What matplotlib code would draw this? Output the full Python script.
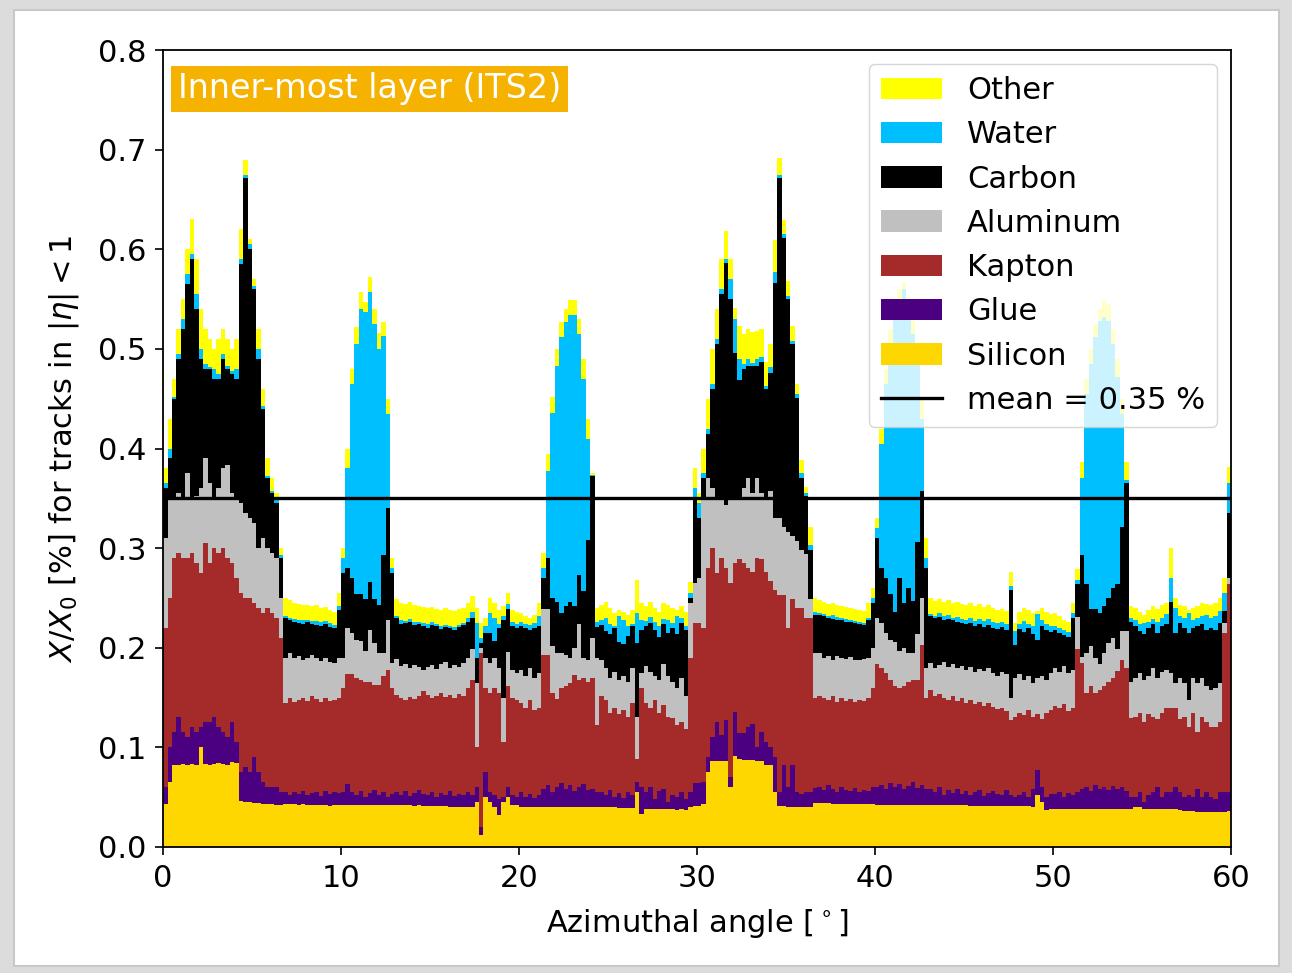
"""
Material budget of the ITS2 inner-most layer versus azimuthal angle.
"""
import numpy as np
import matplotlib
matplotlib.use("Agg")
import matplotlib.pyplot as plt
from matplotlib.patches import Rectangle

plt.rcParams['font.family'] = 'DejaVu Sans'
plt.rcParams['font.size'] = 22

# bins of 0.25 deg from 0 to 60 deg, cumulative top of each material layer
bin_width = 0.25
n_bins = 240

silicon_top = (
    [0.043, 0.065, 0.082, 0.082, 0.083, 0.082, 0.083, 0.082, 0.10, 0.083, 0.082, 0.083, 0.084, 0.083,
     0.082, 0.085, 0.084, 0.046, 0.045, 0.045, 0.044, 0.044, 0.043, 0.043, 0.043, 0.042, 0.042]
    + [0.043, 0.043, 0.043, 0.042, 0.043, 0.042, 0.042, 0.042, 0.042, 0.042, 0.041, 0.042, 0.042]
    + [0.042, 0.042, 0.042, 0.042, 0.042, 0.042, 0.042, 0.042, 0.042, 0.042, 0.042, 0.042]
    + [0.042, 0.042, 0.042, 0.042, 0.041, 0.042, 0.041, 0.041, 0.041, 0.041, 0.041, 0.041, 0.040,
       0.040, 0.040, 0.040, 0.040, 0.040]
    + [0.045, 0.012, 0.05, 0.045, 0.04, 0.032, 0.045, 0.05, 0.042, 0.042]
    + [0.04, 0.04, 0.04, 0.04, 0.04, 0.04, 0.04, 0.04, 0.04, 0.04, 0.04, 0.04, 0.04, 0.04, 0.04,
       0.04, 0.04, 0.04]
    + [0.04, 0.04, 0.04, 0.04, 0.039, 0.039, 0.039, 0.039, 0.055, 0.033, 0.038, 0.038, 0.038, 0.038,
       0.038, 0.038, 0.038, 0.037, 0.038, 0.037, 0.04, 0.041]
    + [0.041, 0.043, 0.075, 0.086, 0.086, 0.086, 0.086, 0.06, 0.091, 0.088, 0.087, 0.087, 0.087,
       0.086, 0.086, 0.082, 0.082, 0.055, 0.041, 0.041, 0.04, 0.04, 0.04, 0.04, 0.04, 0.04, 0.044]
    + [0.044, 0.044, 0.044, 0.043, 0.043, 0.043, 0.043, 0.043, 0.043, 0.043, 0.043, 0.043, 0.043]
    + [0.042, 0.042, 0.042, 0.042, 0.042, 0.042, 0.042, 0.042, 0.042, 0.042, 0.042, 0.042]
    + [0.042, 0.042, 0.042, 0.042, 0.042, 0.042, 0.042, 0.042, 0.042, 0.041, 0.041, 0.041, 0.041,
       0.041, 0.041, 0.041, 0.041, 0.041, 0.041, 0.041, 0.041, 0.041, 0.041, 0.040, 0.052, 0.045,
       0.037, 0.038]
    + [0.038, 0.038, 0.038, 0.038, 0.038, 0.038, 0.038, 0.038, 0.038, 0.038, 0.038, 0.038, 0.038,
       0.038, 0.038, 0.038, 0.038, 0.038]
    + [0.04, 0.04, 0.038, 0.038, 0.038, 0.038, 0.038, 0.038, 0.038, 0.038, 0.037, 0.036, 0.036,
       0.036, 0.035, 0.035, 0.035, 0.035, 0.035, 0.035, 0.035, 0.036]
)

glue_top = (
    [0.06, 0.10, 0.115, 0.13, 0.115, 0.11, 0.12, 0.115, 0.12, 0.125, 0.125, 0.13, 0.12, 0.115,
     0.11, 0.125, 0.105, 0.075, 0.08, 0.075, 0.09, 0.075, 0.065, 0.06, 0.06, 0.06, 0.055]
    + [0.055, 0.052, 0.055, 0.053, 0.056, 0.052, 0.054, 0.055, 0.051, 0.056, 0.053, 0.055, 0.054]
    + [0.055, 0.063, 0.055, 0.052, 0.056, 0.05, 0.054, 0.057, 0.052, 0.055, 0.05, 0.053]
    + [0.055, 0.052, 0.056, 0.051, 0.054, 0.057, 0.053, 0.052, 0.055, 0.050, 0.054, 0.052, 0.056,
       0.051, 0.053, 0.052, 0.055, 0.052]
    + [0.06, 0.02, 0.075, 0.055, 0.052, 0.048, 0.05, 0.06, 0.052, 0.05]
    + [0.055, 0.05, 0.053, 0.049, 0.052, 0.058, 0.062, 0.055, 0.06, 0.064, 0.058, 0.062, 0.056,
       0.06, 0.063, 0.057, 0.058, 0.055]
    + [0.055, 0.052, 0.057, 0.050, 0.054, 0.049, 0.055, 0.052, 0.065, 0.06, 0.055, 0.06, 0.048,
       0.056, 0.058, 0.045, 0.052, 0.05, 0.055, 0.048, 0.055, 0.064]
    + [0.064, 0.065, 0.09, 0.11, 0.125, 0.112, 0.127, 0.07, 0.136, 0.114, 0.114, 0.12, 0.123,
       0.10, 0.115, 0.105, 0.10, 0.09, 0.055, 0.082, 0.06, 0.082, 0.055, 0.053, 0.055, 0.055, 0.059]
    + [0.06, 0.057, 0.062, 0.058, 0.055, 0.060, 0.057, 0.056, 0.059, 0.055, 0.057, 0.056, 0.06]
    + [0.06, 0.062, 0.058, 0.064, 0.06, 0.063, 0.058, 0.061, 0.065, 0.059, 0.062, 0.058]
    + [0.058, 0.055, 0.06, 0.052, 0.057, 0.054, 0.058, 0.053, 0.056, 0.052, 0.055, 0.057, 0.051,
       0.054, 0.056, 0.053, 0.052, 0.057, 0.052, 0.05, 0.052, 0.055, 0.05, 0.058, 0.077, 0.06,
       0.05, 0.053]
    + [0.053, 0.055, 0.05, 0.054, 0.052, 0.055, 0.058, 0.06, 0.056, 0.062, 0.058, 0.06, 0.057,
       0.061, 0.058, 0.06, 0.056, 0.05]
    + [0.05, 0.055, 0.045, 0.052, 0.055, 0.06, 0.05, 0.055, 0.055, 0.06, 0.055, 0.05, 0.052, 0.05,
       0.058, 0.05, 0.055, 0.05, 0.048, 0.055, 0.055, 0.055]
)

kapton_top = (
    [0.22, 0.25, 0.29, 0.295, 0.29, 0.29, 0.295, 0.285, 0.275, 0.305, 0.285, 0.30, 0.295, 0.30,
     0.29, 0.285, 0.27, 0.255, 0.25, 0.25, 0.245, 0.24, 0.235, 0.24, 0.235, 0.23, 0.21]
    + [0.145, 0.15, 0.146, 0.148, 0.15, 0.147, 0.152, 0.149, 0.146, 0.15, 0.147, 0.148, 0.15]
    + [0.16, 0.174, 0.174, 0.17, 0.168, 0.166, 0.166, 0.163, 0.163, 0.172, 0.178, 0.16]
    + [0.153, 0.150, 0.148, 0.151, 0.149, 0.152, 0.157, 0.153, 0.150, 0.152, 0.155, 0.151, 0.153,
       0.150, 0.154, 0.152, 0.160, 0.168]
    + [0.10, 0.195, 0.16, 0.155, 0.16, 0.155, 0.105, 0.162, 0.15, 0.148]
    + [0.145, 0.14, 0.148, 0.138, 0.14, 0.193, 0.193, 0.155, 0.149, 0.16, 0.162, 0.165, 0.173,
       0.168, 0.17, 0.166, 0.17, 0.122]
    + [0.152, 0.148, 0.135, 0.140, 0.133, 0.138, 0.130, 0.145, 0.088, 0.16, 0.145, 0.14, 0.148,
       0.135, 0.143, 0.130, 0.129, 0.122, 0.125, 0.118, 0.19, 0.225]
    + [0.225, 0.22, 0.28, 0.30, 0.275, 0.29, 0.28, 0.265, 0.285, 0.289, 0.285, 0.28, 0.276, 0.29,
       0.289, 0.276, 0.267, 0.258, 0.253, 0.253, 0.22, 0.249, 0.24, 0.24, 0.23, 0.23, 0.15]
    + [0.152, 0.150, 0.148, 0.152, 0.146, 0.150, 0.147, 0.149, 0.146, 0.148, 0.147, 0.15, 0.16]
    + [0.184, 0.18, 0.175, 0.168, 0.162, 0.16, 0.162, 0.166, 0.168, 0.168, 0.203, 0.15]
    + [0.158, 0.152, 0.154, 0.150, 0.148, 0.152, 0.147, 0.150, 0.145, 0.148, 0.144, 0.146, 0.142,
       0.145, 0.141, 0.139, 0.14, 0.137, 0.127, 0.13, 0.135, 0.132, 0.138, 0.13, 0.134, 0.128,
       0.135, 0.138]
    + [0.142, 0.14, 0.144, 0.137, 0.14, 0.199, 0.185, 0.155, 0.162, 0.155, 0.158, 0.162, 0.166,
       0.17, 0.177, 0.188, 0.18, 0.129]
    + [0.13, 0.135, 0.125, 0.133, 0.13, 0.128, 0.135, 0.14, 0.14, 0.14, 0.128, 0.13, 0.12, 0.135,
       0.115, 0.13, 0.125, 0.12, 0.12, 0.125, 0.215, 0.264]
)

aluminum_top = (
    [0.31, 0.35, 0.35, 0.355, 0.35, 0.375, 0.35, 0.352, 0.36, 0.39, 0.365, 0.35, 0.36, 0.38,
     0.383, 0.355, 0.35, 0.345, 0.335, 0.33, 0.325, 0.30, 0.31, 0.30, 0.295, 0.29, 0.25]
    + [0.19, 0.195, 0.19, 0.192, 0.188, 0.19, 0.193, 0.19, 0.187, 0.19, 0.186, 0.185, 0.19]
    + [0.19, 0.22, 0.215, 0.208, 0.207, 0.197, 0.218, 0.205, 0.195, 0.195, 0.228, 0.185]
    + [0.189, 0.182, 0.184, 0.180, 0.183, 0.181, 0.178, 0.181, 0.183, 0.179, 0.184, 0.186, 0.180,
       0.183, 0.181, 0.185, 0.190, 0.199]
    + [0.165, 0.20, 0.19, 0.185, 0.19, 0.18, 0.15, 0.196, 0.178, 0.175]
    + [0.178, 0.172, 0.18, 0.17, 0.175, 0.239, 0.239, 0.202, 0.195, 0.195, 0.193, 0.19, 0.20,
       0.224, 0.19, 0.188, 0.21, 0.19]
    + [0.188, 0.180, 0.170, 0.176, 0.168, 0.172, 0.166, 0.18, 0.13, 0.175, 0.182, 0.176, 0.172,
       0.168, 0.184, 0.172, 0.166, 0.160, 0.170, 0.152, 0.245, 0.265]
    + [0.27, 0.35, 0.37, 0.36, 0.35, 0.35, 0.343, 0.348, 0.35, 0.35, 0.36, 0.37, 0.355, 0.37,
       0.355, 0.35, 0.357, 0.33, 0.33, 0.321, 0.316, 0.312, 0.307, 0.298, 0.294, 0.249, 0.195]
    + [0.195, 0.190, 0.192, 0.188, 0.192, 0.190, 0.189, 0.191, 0.188, 0.188, 0.189, 0.19, 0.2]
    + [0.23, 0.225, 0.215, 0.208, 0.206, 0.197, 0.20, 0.195, 0.195, 0.214, 0.25, 0.18]
    + [0.185, 0.180, 0.183, 0.186, 0.181, 0.184, 0.180, 0.182, 0.178, 0.181, 0.176, 0.179, 0.177,
       0.18, 0.175, 0.172, 0.176, 0.174, 0.15, 0.17, 0.174, 0.168, 0.172, 0.165, 0.17, 0.172,
       0.168, 0.175]
    + [0.18, 0.176, 0.182, 0.175, 0.178, 0.231, 0.191, 0.195, 0.202, 0.19, 0.184, 0.195, 0.205,
       0.21, 0.199, 0.217, 0.217, 0.166]
    + [0.17, 0.175, 0.168, 0.172, 0.18, 0.17, 0.176, 0.178, 0.175, 0.165, 0.17, 0.165, 0.148,
       0.17, 0.165, 0.17, 0.162, 0.158, 0.16, 0.165, 0.225, 0.27]
)

carbon_top = (
    [0.36, 0.39, 0.45, 0.49, 0.52, 0.565, 0.59, 0.54, 0.49, 0.48, 0.48, 0.47, 0.47, 0.49, 0.48,
     0.475, 0.47, 0.585, 0.672, 0.60, 0.56, 0.49, 0.44, 0.37, 0.355, 0.345, 0.29]
    + [0.23, 0.228, 0.226, 0.225, 0.224, 0.226, 0.224, 0.223, 0.222, 0.224, 0.221, 0.22, 0.238]
    + [0.275, 0.28, 0.27, 0.254, 0.254, 0.249, 0.266, 0.249, 0.243, 0.293, 0.34, 0.275]
    + [0.230, 0.224, 0.225, 0.226, 0.223, 0.224, 0.222, 0.220, 0.223, 0.222, 0.219, 0.221, 0.220,
       0.218, 0.221, 0.223, 0.226, 0.230]
    + [0.19, 0.205, 0.215, 0.215, 0.207, 0.220, 0.228, 0.239, 0.222, 0.220]
    + [0.222, 0.22, 0.218, 0.22, 0.222, 0.27, 0.29, 0.25, 0.246, 0.235, 0.242, 0.246, 0.242,
       0.273, 0.257, 0.308, 0.372, 0.221]
    + [0.223, 0.217, 0.214, 0.220, 0.206, 0.204, 0.212, 0.222, 0.205, 0.218, 0.222, 0.225, 0.218,
       0.211, 0.224, 0.215, 0.220, 0.214, 0.225, 0.218, 0.25, 0.35]
    + [0.33, 0.37, 0.415, 0.46, 0.505, 0.555, 0.586, 0.55, 0.496, 0.469, 0.48, 0.483, 0.483,
       0.483, 0.487, 0.46, 0.476, 0.566, 0.672, 0.611, 0.55, 0.505, 0.451, 0.37, 0.352, 0.298, 0.233]
    + [0.233, 0.232, 0.230, 0.229, 0.228, 0.228, 0.226, 0.226, 0.225, 0.224, 0.223, 0.228, 0.245]
    + [0.31, 0.28, 0.27, 0.254, 0.236, 0.27, 0.245, 0.26, 0.247, 0.306, 0.357, 0.28]
    + [0.232, 0.230, 0.231, 0.228, 0.229, 0.228, 0.226, 0.225, 0.224, 0.225, 0.222, 0.224, 0.221,
       0.223, 0.220, 0.219, 0.221, 0.218, 0.258, 0.203, 0.219, 0.216, 0.220, 0.214, 0.208, 0.222,
       0.218, 0.216]
    + [0.218, 0.215, 0.213, 0.211, 0.23, 0.264, 0.293, 0.264, 0.239, 0.239, 0.235, 0.242, 0.25,
       0.26, 0.264, 0.321, 0.365, 0.226]
    + [0.222, 0.217, 0.214, 0.22, 0.224, 0.215, 0.222, 0.224, 0.246, 0.215, 0.225, 0.22, 0.215,
       0.22, 0.222, 0.224, 0.218, 0.22, 0.218, 0.225, 0.237, 0.335]
)

water_top = (
    [0.365, 0.40, 0.452, 0.495, 0.53, 0.575, 0.595, 0.555, 0.50, 0.485, 0.482, 0.48, 0.475, 0.495,
     0.483, 0.478, 0.48, 0.59, 0.675, 0.605, 0.563, 0.50, 0.443, 0.372, 0.357, 0.348, 0.293]
    + [0.232, 0.23, 0.229, 0.228, 0.228, 0.228, 0.227, 0.227, 0.226, 0.227, 0.225, 0.223, 0.242]
    + [0.29, 0.38, 0.465, 0.505, 0.54, 0.537, 0.557, 0.525, 0.50, 0.513, 0.435, 0.28]
    + [0.232, 0.228, 0.227, 0.229, 0.226, 0.226, 0.225, 0.224, 0.226, 0.224, 0.222, 0.223, 0.222,
       0.221, 0.223, 0.225, 0.230, 0.236]
    + [0.225, 0.21, 0.222, 0.235, 0.230, 0.224, 0.232, 0.244, 0.226, 0.224]
    + [0.226, 0.224, 0.223, 0.225, 0.232, 0.28, 0.377, 0.436, 0.483, 0.512, 0.527, 0.534, 0.534,
       0.515, 0.47, 0.41, 0.373, 0.226]
    + [0.228, 0.230, 0.224, 0.222, 0.232, 0.228, 0.222, 0.224, 0.235, 0.228, 0.227, 0.231, 0.226,
       0.222, 0.229, 0.228, 0.225, 0.232, 0.230, 0.222, 0.255, 0.36]
    + [0.345, 0.375, 0.42, 0.465, 0.51, 0.56, 0.59, 0.57, 0.53, 0.49, 0.485, 0.49, 0.486, 0.49,
       0.492, 0.463, 0.482, 0.577, 0.675, 0.615, 0.553, 0.508, 0.455, 0.375, 0.355, 0.303, 0.236]
    + [0.235, 0.234, 0.232, 0.233, 0.231, 0.230, 0.229, 0.228, 0.227, 0.226, 0.225, 0.230, 0.25]
    + [0.32, 0.405, 0.465, 0.505, 0.53, 0.55, 0.56, 0.54, 0.515, 0.485, 0.43, 0.29]
    + [0.234, 0.232, 0.235, 0.232, 0.233, 0.23, 0.231, 0.229, 0.228, 0.23, 0.227, 0.229, 0.227,
       0.229, 0.226, 0.225, 0.226, 0.224, 0.262, 0.217, 0.224, 0.227, 0.224, 0.222, 0.234, 0.228,
       0.224, 0.222]
    + [0.222, 0.22, 0.218, 0.216, 0.235, 0.268, 0.37, 0.455, 0.485, 0.512, 0.528, 0.532, 0.528,
       0.505, 0.472, 0.435, 0.368, 0.23]
    + [0.228, 0.224, 0.225, 0.226, 0.229, 0.226, 0.23, 0.234, 0.27, 0.24, 0.232, 0.23, 0.235,
       0.228, 0.23, 0.232, 0.233, 0.23, 0.232, 0.237, 0.255, 0.365]
)

other_top = (
    [0.38, 0.43, 0.47, 0.52, 0.55, 0.60, 0.63, 0.59, 0.54, 0.52, 0.51, 0.50, 0.51, 0.52, 0.51,
     0.50, 0.51, 0.62, 0.69, 0.61, 0.57, 0.52, 0.46, 0.39, 0.37, 0.355, 0.30]
    + [0.25, 0.248, 0.245, 0.244, 0.243, 0.243, 0.242, 0.243, 0.240, 0.241, 0.238, 0.236, 0.255]
    + [0.30, 0.40, 0.48, 0.522, 0.557, 0.547, 0.572, 0.54, 0.516, 0.527, 0.45, 0.29]
    + [0.249, 0.245, 0.244, 0.246, 0.243, 0.242, 0.241, 0.240, 0.241, 0.239, 0.238, 0.240, 0.238,
       0.237, 0.239, 0.240, 0.245, 0.252]
    + [0.24, 0.225, 0.23, 0.25, 0.245, 0.238, 0.242, 0.255, 0.238, 0.236]
    + [0.235, 0.232, 0.230, 0.233, 0.245, 0.295, 0.394, 0.452, 0.50, 0.527, 0.54, 0.549, 0.549,
       0.53, 0.49, 0.43, 0.375, 0.24]
    + [0.243, 0.246, 0.240, 0.235, 0.238, 0.236, 0.233, 0.238, 0.268, 0.245, 0.242, 0.246, 0.240,
       0.236, 0.245, 0.243, 0.240, 0.238, 0.242, 0.236, 0.266, 0.38]
    + [0.355, 0.40, 0.45, 0.50, 0.54, 0.59, 0.618, 0.59, 0.541, 0.523, 0.515, 0.52, 0.517, 0.518,
       0.52, 0.487, 0.505, 0.609, 0.692, 0.629, 0.568, 0.523, 0.465, 0.388, 0.361, 0.321, 0.25]
    + [0.248, 0.246, 0.244, 0.245, 0.243, 0.242, 0.241, 0.240, 0.239, 0.238, 0.237, 0.245, 0.26]
    + [0.33, 0.42, 0.48, 0.52, 0.545, 0.56, 0.567, 0.552, 0.53, 0.50, 0.45, 0.31]
    + [0.25, 0.247, 0.249, 0.246, 0.248, 0.245, 0.246, 0.244, 0.243, 0.245, 0.242, 0.244, 0.241,
       0.243, 0.240, 0.238, 0.239, 0.237, 0.276, 0.225, 0.236, 0.240, 0.238, 0.235, 0.237, 0.24,
       0.236, 0.234]
    + [0.235, 0.232, 0.228, 0.226, 0.245, 0.279, 0.386, 0.47, 0.50, 0.525, 0.54, 0.548, 0.545,
       0.52, 0.49, 0.45, 0.386, 0.242]
    + [0.24, 0.236, 0.233, 0.238, 0.242, 0.239, 0.243, 0.245, 0.30, 0.25, 0.243, 0.242, 0.238,
       0.24, 0.242, 0.245, 0.244, 0.243, 0.245, 0.25, 0.27, 0.381]
)

mean_value = 0.35

layer_names = ['Silicon', 'Glue', 'Kapton', 'Aluminum', 'Carbon', 'Water', 'Other']
layer_colors = ['gold', 'indigo', 'brown', 'silver', 'black', 'deepskyblue', 'yellow']
layer_tops = [silicon_top, glue_top, kapton_top, aluminum_top, carbon_top, water_top, other_top]

for name, top in zip(layer_names, layer_tops):
    assert len(top) == n_bins, (name, len(top))

edges = np.arange(n_bins + 1) * bin_width

fig = plt.figure(figsize=(12.92, 9.73), dpi=100, facecolor='#dcdcdc')
# white slide panel behind the plot
fig.patches.append(Rectangle((0.011, 0.007), 0.979, 0.983, transform=fig.transFigure,
                             facecolor='white', edgecolor='#c8c8c8', linewidth=1.5, zorder=-10))

ax = fig.add_axes([0.1262, 0.1295, 0.8266, 0.8191])
ax.set_zorder(5)

handles = []
bottom = np.zeros(n_bins)
for name, color, top in zip(layer_names, layer_colors, layer_tops):
    top = np.asarray(top)
    h = ax.stairs(top, edges, baseline=bottom, fill=True, color=color, linewidth=0, label=name)
    handles.append(h)
    bottom = top

mean_line, = ax.plot([0, 60], [mean_value, mean_value], color='black', lw=2.4,
                     label='mean = %.2f %%' % mean_value)

ax.set_xlim(0, 60)
ax.set_ylim(0, 0.8)
ax.set_xticks(np.arange(0, 61, 10))
ax.set_yticks(np.arange(0, 0.81, 0.1))
ax.set_yticklabels(['%.1f' % v for v in np.arange(0, 0.81, 0.1)])
ax.tick_params(length=6, width=1.2, labelsize=22, pad=6)
for sp in ax.spines.values():
    sp.set_linewidth(1.3)

ax.set_xlabel(r'Azimuthal angle [$^\circ$]', fontsize=22, labelpad=10)
ax.set_ylabel(r'$X/X_0$ [%] for tracks in $|\eta| < 1$', fontsize=22, labelpad=12)

ax.text(0.014, 0.972, 'Inner-most layer (ITS2)', transform=ax.transAxes, color='white',
        fontsize=24, ha='left', va='top',
        bbox=dict(boxstyle='square,pad=0.2', facecolor='#f5b200', edgecolor='none'))

leg_handles = handles[::-1] + [mean_line]
ax.legend(leg_handles, [h.get_label() for h in leg_handles], loc='upper right',
          fontsize=22, framealpha=0.8, handlelength=2.0, borderaxespad=0.45)

fig.savefig('out.png', dpi=100, facecolor=fig.get_facecolor())
